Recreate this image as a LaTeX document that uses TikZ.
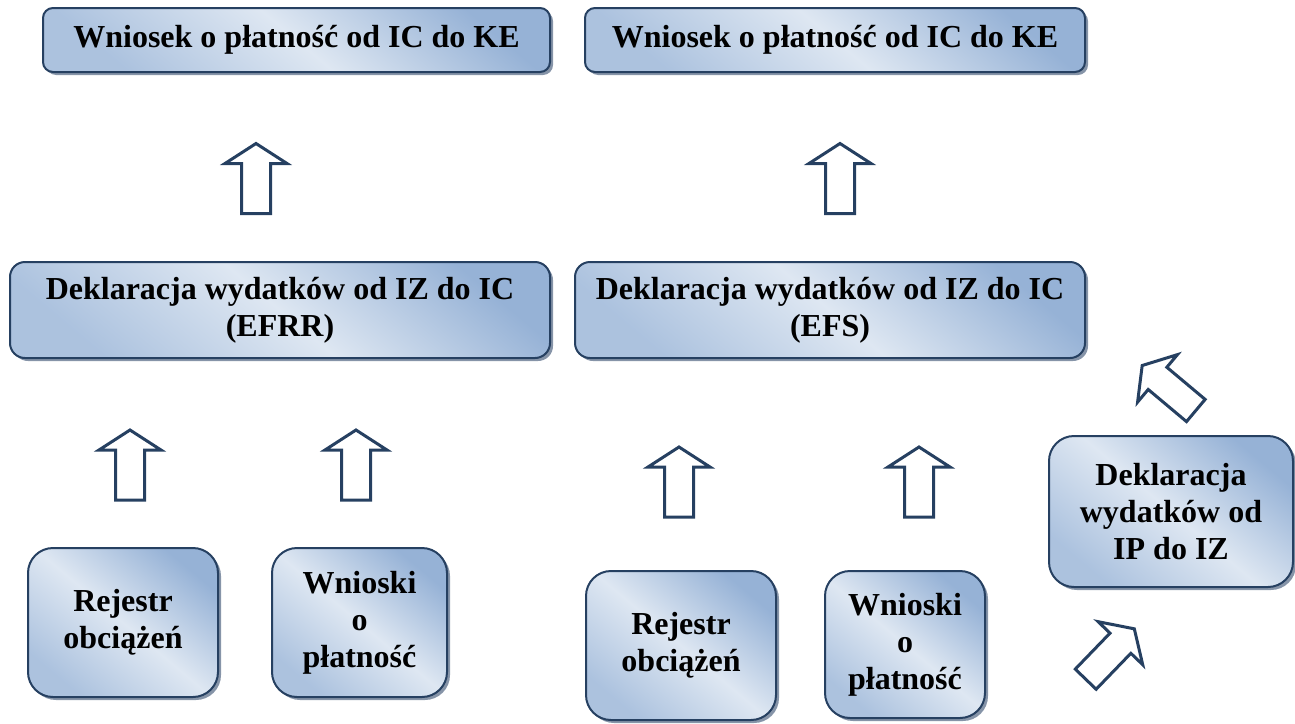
\documentclass[tikz,border=0pt]{standalone}
\usepackage{fontspec}
\setmainfont{Liberation Serif}
\usetikzlibrary{shadows}
\definecolor{boxline}{RGB}{38,64,97}
\definecolor{boxlight}{RGB}{222,231,242}
\definecolor{boxdark}{RGB}{150,178,214}
\definecolor{boxshadow}{RGB}{134,148,168}
\tikzset{
  stage/.style={draw=boxline, line width=2pt, rounded corners=#1,
    top color=boxdark, bottom color=boxdark!70!boxlight, middle color=boxlight,
    shading angle=-40, align=center, inner sep=2pt,
    font=\bfseries\fontsize{32}{37}\selectfont,
    drop shadow={shadow xshift=3pt, shadow yshift=-3pt, fill=boxshadow, opacity=1}},
  stage/.default=12pt,
  upblock/.pic={
    \draw[boxline, line width=3pt, fill=white, line join=miter]
      (-14.5pt,-35pt) -- (14.5pt,-35pt) -- (14.5pt,15pt) -- (31pt,15pt)
      -- (0pt,35pt) -- (-31pt,15pt) -- (-14.5pt,15pt) -- cycle;}
}
\begin{document}
\begin{tikzpicture}[x=1pt, y=-1pt]
  \useasboundingbox (0,0) rectangle (1295,723);
  % top level
  \node[stage=10pt, minimum width=507pt, minimum height=64pt] (keL) at (296.5,40) {Wniosek o płatność od IC do KE};
  \node[stage=10pt, minimum width=500pt, minimum height=64pt] (keR) at (835,40) {Wniosek o płatność od IC do KE};
  % declarations to IC
  \node[stage=15pt, minimum width=540pt, minimum height=96pt] (efrr) at (280,310) {Deklaracja wydatków od IZ do IC\\(EFRR)};
  \node[stage=15pt, minimum width=510pt, minimum height=96pt] (efs) at (830,310) {Deklaracja wydatków od IZ do IC\\(EFS)};
  % sources
  \node[stage=25pt, minimum width=190pt, minimum height=149pt] (rejL) at (123,622.5) {Rejestr\\obciążeń};
  \node[stage=25pt, minimum width=175pt, minimum height=149pt] (wnL) at (359.5,622.5) {Wnioski\\o\\płatność};
  \node[stage=25pt, minimum width=190pt, minimum height=149pt] (rejR) at (681,645.5) {Rejestr\\obciążeń};
  \node[stage=25pt, minimum width=160pt, minimum height=147pt] (wnR) at (905,644.5) {Wnioski\\o\\płatność};
  \node[stage=25pt, minimum width=244pt, minimum height=151pt] (ipiz) at (1171,511.5) {Deklaracja\\wydatków od\\IP do IZ};
  % block arrows
  \pic at (256,178.5) {upblock};
  \pic at (840,178.5) {upblock};
  \pic at (130,465) {upblock};
  \pic at (356,465) {upblock};
  \pic at (679,482) {upblock};
  \pic at (919,482) {upblock};
  \pic[rotate=50] at (1169,388) {upblock};
  \pic[rotate=-44] at (1110,654) {upblock};
\end{tikzpicture}
\end{document}
